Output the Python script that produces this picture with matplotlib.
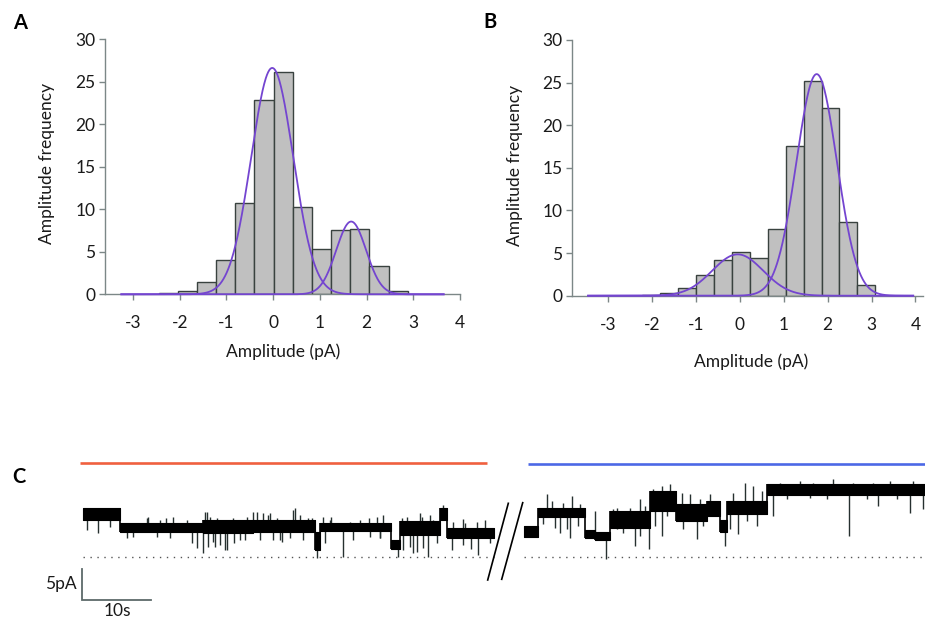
import numpy as np
import matplotlib
matplotlib.use("Agg")
import matplotlib.pyplot as plt

plt.rcParams['font.family'] = ['Lato', 'DejaVu Sans']
plt.rcParams['axes.unicode_minus'] = False

# ---------------- data ----------------
bin_width = 0.41
x_ticks = [-3, -2, -1, 0, 1, 2, 3, 4]
y_ticks = [0, 5, 10, 15, 20, 25, 30]

# Panel A histogram (first bin left edge, counts per bin)
a_bin_start = -2.45
a_counts = [0.12, 0.4, 1.5, 4.0, 10.7, 22.8, 26.1, 10.3, 5.3, 7.6, 7.7, 3.3, 0.4]
# Gaussian fits (mean, sd, amplitude)
a_fits = [(-0.02, 0.45, 26.6), (1.67, 0.32, 8.55)]

# Panel B histogram
b_bin_start = -2.24
b_counts = [0.08, 0.27, 0.86, 2.4, 4.2, 5.1, 4.4, 7.8, 17.6, 25.15, 22.0, 8.7, 1.2]
b_fits = [(-0.05, 0.58, 4.85), (1.75, 0.46, 26.0)]

# Panel C traces: segments (t0 [s], t1 [s], low pA, high pA) and spikes (t [s], pA)
left_segments = [
    (0.0, 5.3, 5.8, 7.8),
    (5.3, 17.4, 4.0, 5.4),
    (17.4, 24.6, 3.8, 5.8),
    (24.6, 33.6, 4.0, 5.9),
    (33.6, 34.4, 1.0, 4.0),
    (34.4, 44.7, 4.1, 5.4),
    (44.7, 46.0, 1.2, 2.6),
    (46.0, 51.7, 3.4, 5.6),
    (51.7, 52.7, 5.9, 7.7),
    (52.7, 59.5, 2.9, 4.6),
]
left_spikes = [
    (0.53, 4.23), (2.22, 3.7), (3.91, 4.76), (6.33, 2.91), (7.29, 3.17),
    (9.23, 6.08), (9.47, 6.35), (10.68, 3.17), (11.16, 5.82), (12.0, 6.2),
    (12.61, 2.91), (13.09, 6.35), (15.02, 5.82), (15.75, 2.12), (16.47, 1.32),
    (17.44, 0.53), (17.68, 7.14), (17.92, 7.14), (18.16, 1.59), (18.4, 6.35),
    (18.89, 2.38), (19.2, 1.6), (19.37, 6.08), (19.86, 1.85), (20.58, 1.06),
    (20.82, 1.06), (21.79, 6.08), (21.9, 2.12), (22.75, 2.65), (23.48, 2.65),
    (23.72, 6.35), (24.69, 7.14), (25.17, 7.14), (25.65, 2.65), (26.14, 6.88),
    (26.86, 6.61), (27.1, 6.88), (27.58, 2.65), (28.07, 6.08), (28.5, 2.7),
    (28.79, 2.38), (30.0, 2.91), (30.48, 7.41), (30.72, 7.67), (31.45, 6.61),
    (31.93, 2.65), (32.66, 6.08), (33.14, 6.08), (33.87, -0.26), (34.83, 6.35),
    (35.1, 2.12), (35.8, 5.82), (36.0, 6.3), (37.73, 0.0), (38.7, 5.56),
    (39.18, 2.65), (40.14, 5.82), (41.5, 6.2), (41.59, 3.17), (42.56, 6.35),
    (43.0, 2.9), (43.04, 2.91), (43.53, 6.61), (45.7, 0.0), (46.18, 6.08),
    (46.43, 1.06), (46.91, 6.35), (47.39, 1.59), (47.87, 0.53), (48.36, 0.79),
    (48.9, 6.9), (49.08, 6.35), (49.32, 1.32), (50.05, 0.0), (50.29, 6.61),
    (50.77, 5.82), (51.26, 2.12), (52.22, 8.2), (53.43, 1.06), (53.67, 5.56),
    (55.0, 6.0), (55.12, 1.85), (55.36, 5.29), (56.2, 1.3), (57.05, 5.56),
    (57.29, 0.26), (58.26, 5.82), (58.99, 2.12),
]
right_segments = [
    (0.0, 2.08, 3.2, 4.8),
    (2.08, 8.84, 6.3, 7.7),
    (8.84, 10.29, 2.9, 4.2),
    (10.29, 12.46, 2.6, 4.0),
    (12.46, 18.26, 4.5, 7.2),
    (18.26, 22.1, 7.2, 10.5),
    (22.1, 26.47, 5.6, 8.3),
    (26.47, 28.4, 6.4, 8.9),
    (28.4, 29.37, 3.9, 5.9),
    (29.37, 35.17, 6.8, 8.9),
    (35.17, 58.1, 9.8, 11.5),
]
right_spikes = [
    (2.8, 5.14), (3.29, 9.9), (4.01, 8.83), (4.49, 4.6), (5.22, 3.81),
    (5.7, 8.57), (6.18, 4.34), (6.67, 3.02), (6.91, 9.63), (7.87, 4.87),
    (8.12, 8.3), (10.29, 7.25), (11.88, -0.42), (12.95, 7.51), (13.43, 7.78),
    (13.43, 4.34), (13.91, 7.25), (14.4, 3.81), (15.36, 7.78), (16.09, 1.69),
    (16.81, 9.1), (16.81, 3.28), (17.54, 8.04), (18.16, 1.16), (18.74, 10.69),
    (18.99, 4.87), (19.95, 3.28), (19.95, 11.22), (20.68, 6.46), (21.16, 11.48),
    (21.64, 10.16), (22.85, 10.16), (23.09, 4.34), (24.06, 9.9), (25.02, 2.75),
    (25.51, 9.1), (25.99, 4.87), (26.96, 9.9), (29.13, 1.69), (29.86, 4.34),
    (30.34, 10.16), (31.06, 3.54), (32.03, 11.75), (32.27, 5.67), (33.24, 11.22),
    (33.72, 4.87), (34.44, 10.42), (36.14, 6.46), (37.1, 11.75), (38.07, 9.1),
    (40.0, 12.0), (41.45, 9.37), (41.93, 11.75), (43.86, 9.1), (44.83, 12.27),
    (47.15, 3.28), (47.73, 11.75), (49.66, 9.1), (50.63, 11.75), (51.35, 8.04),
    (53.04, 12.0), (54.01, 9.1), (55.94, 6.98), (56.43, 12.0), (57.87, 7.51),
]

# ---------------- layout ----------------
W, H = 925, 626
fig = plt.figure(figsize=(W / 100, H / 100), dpi=100)
fig.patch.set_facecolor('white')

def px_axes(x0, y0, x1, y1):
    return fig.add_axes([x0 / W, 1 - y1 / H, (x1 - x0) / W, (y1 - y0) / H])

AX_COL = '#7c8787'
FS = 12.5

def hist_panel(ax, start, counts, fits, xlim, crange):
    edges = start + bin_width * np.arange(len(counts))
    ax.bar(edges, counts, width=bin_width, align='edge', color='#c0c0c0',
           edgecolor='#39423f', linewidth=1.0, zorder=2)
    xs = np.linspace(crange[0], crange[1], 800)
    for mu, sd, amp in fits:
        ax.plot(xs, amp * np.exp(-(xs - mu) ** 2 / (2 * sd * sd)),
                color='#7445d0', lw=1.3, zorder=3, clip_on=False)
    ax.set_xlim(*xlim)
    ax.set_ylim(0, 30)
    ax.set_xticks(x_ticks)
    ax.set_yticks(y_ticks)
    for s in ['top', 'right']:
        ax.spines[s].set_visible(False)
    for s in ['left', 'bottom']:
        ax.spines[s].set_color(AX_COL)
        ax.spines[s].set_linewidth(1.0)
    ax.tick_params(axis='x', direction='out', length=4, width=1, color=AX_COL,
                   pad=11, labelsize=FS, labelcolor='#1a1a1a')
    ax.tick_params(axis='y', direction='out', length=4, width=1, color=AX_COL,
                   pad=3, labelsize=FS, labelcolor='#1a1a1a')
    ax.patch.set_alpha(0)

axA = px_axes(105, 39, 460, 294.3)
hist_panel(axA, a_bin_start, a_counts, a_fits, (-3.6, 4.0), (-3.25, 3.65))
axB = px_axes(572.3, 40, 923.3, 295.7)
hist_panel(axB, b_bin_start, b_counts, b_fits, (-3.82, 4.18), (-3.46, 3.95))

def ftext(x, y, s, **kw):
    fig.text(x / W, 1 - y / H, s, ha=kw.pop('ha', 'center'), va=kw.pop('va', 'center'),
             fontsize=kw.pop('fontsize', FS), color=kw.pop('color', '#1a1a1a'), **kw)

ftext(47, 163, 'Amplitude frequency', rotation=90)
ftext(283, 352, 'Amplitude (pA)')
ftext(515, 165, 'Amplitude frequency', rotation=90)
ftext(751, 362, 'Amplitude (pA)')
ftext(20, 23, 'A', fontweight='bold', fontsize=14.5, color='black')
ftext(490, 22, 'B', fontweight='bold', fontsize=14.5, color='black')
ftext(19, 477, 'C', fontweight='bold', fontsize=14.5, color='black')

# ---------------- panel C ----------------
PX_PER_S = 6.9
PX_PER_PA = 6.3
X0_PX = 83.0       # pixel x of t = 0 (left trace)
Y0_PX = 556.7      # pixel y of 0 pA (dotted baseline)
C_TOP = 440.0
RIGHT_OFFSET = (524.0 - X0_PX) / PX_PER_S

def t_of(px):
    return (px - X0_PX) / PX_PER_S

def pa_of(py):
    return (Y0_PX - py) / PX_PER_PA

axC = fig.add_axes([0, 0, 1, (H - C_TOP) / H])
axC.set_xlim(t_of(0), t_of(W))
axC.set_ylim(pa_of(H), pa_of(C_TOP))
axC.axis('off')

def draw_trace(ax, segs, spikes, off):
    for t0, t1, lo, hi in segs:
        ax.fill_between([t0 + off, t1 + off], [lo, lo], [hi, hi], color='black',
                        linewidth=0.8, edgecolor='black', zorder=3)
    for k in range(len(segs) - 1):
        t = segs[k][1] + off
        lo = min(segs[k][2], segs[k + 1][2])
        hi = max(segs[k][3], segs[k + 1][3])
        ax.vlines(t, lo, hi, color='black', lw=1.2, zorder=3)
    for t, v in spikes:
        seg = next((s for s in segs if s[0] <= t <= s[1]), segs[-1])
        mid = 0.5 * (seg[2] + seg[3])
        ax.vlines(t + off, min(mid, v), max(mid, v), color='#26302f', lw=1.0, zorder=2)
    t_end = segs[-1][1]
    ax.plot([off, t_end + off], [0, 0], color='#555555', lw=1.0,
            linestyle=(0, (1, 4)), zorder=1)

draw_trace(axC, left_segments, left_spikes, 0.0)
draw_trace(axC, right_segments, right_spikes, RIGHT_OFFSET)

# condition bars
axC.plot([t_of(80), t_of(486.7)], [pa_of(463.3)] * 2, color='#f0603f', lw=1.9,
         solid_capstyle='butt')
axC.plot([t_of(527.7), t_of(925)], [pa_of(463.7)] * 2, color='#4c68e6', lw=1.9,
         solid_capstyle='butt')

# break marks
axC.plot([t_of(508.3), t_of(487.7)], [pa_of(503.3), pa_of(580)], color='black', lw=1.2)
axC.plot([t_of(522.7), t_of(501.7)], [pa_of(502.7), pa_of(579.3)], color='black', lw=1.2)

# scale bar: 5 pA, 10 s
sb_t = t_of(82.3)
sb_y = pa_of(600)
axC.plot([sb_t, sb_t, sb_t + 10], [sb_y + 5, sb_y, sb_y], color='#5d6a6a', lw=1.3,
         solid_joinstyle='miter')
ftext(77, 584, '5pA', ha='right')
ftext(117, 611, '10s')

fig.savefig('out.png', dpi=100)
